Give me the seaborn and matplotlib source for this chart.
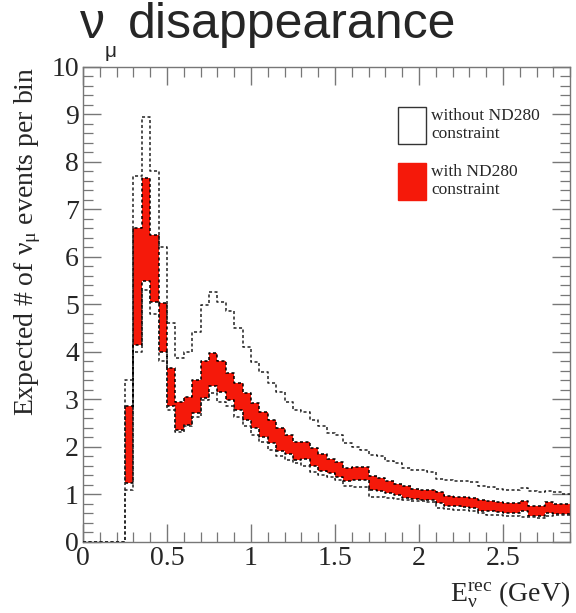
import matplotlib
matplotlib.use("Agg")
import matplotlib.pyplot as plt
from matplotlib.patches import Patch
import pandas as pd
import seaborn as sns

# bin low edges (GeV), 0.05 GeV binning
bin_lo = [0.00, 0.05, 0.10, 0.15, 0.20,
          0.25, 0.30, 0.35, 0.40, 0.45, 0.50, 0.55, 0.60, 0.65, 0.70,
          0.75, 0.80, 0.85, 0.90, 0.95, 1.00, 1.05, 1.10, 1.15, 1.20,
          1.25, 1.30, 1.35, 1.40, 1.45, 1.50, 1.55, 1.60, 1.65, 1.70,
          1.75, 1.80, 1.85, 1.90, 1.95, 2.00, 2.05, 2.10, 2.15, 2.20,
          2.25, 2.30, 2.35, 2.40, 2.45, 2.50, 2.55, 2.60, 2.65, 2.70,
          2.75, 2.80, 2.85]
last_edge = 2.95

# without ND280 constraint (dashed band)
without_lo = [0, 0, 0, 0, 0,
              1.10, 4.00, 5.30, 4.80, 3.80, 2.78, 2.32, 2.43, 2.63, 2.99,
              3.13, 2.95, 2.85, 2.63, 2.43, 2.25, 2.11, 1.94, 1.80, 1.72,
              1.66, 1.60, 1.48, 1.40, 1.37, 1.30, 1.18, 1.16, 1.15, 0.95,
              0.94, 0.92, 0.90, 0.88, 0.87, 0.86, 0.85, 0.72, 0.70, 0.68,
              0.67, 0.65, 0.60, 0.57, 0.56, 0.55, 0.55, 0.53, 0.52, 0.51,
              0.55, 0.56, 0.56]
without_hi = [0, 0, 0, 0, 0,
              3.40, 7.70, 8.95, 7.80, 6.20, 4.60, 3.87, 4.00, 4.42, 4.99,
              5.25, 5.05, 4.85, 4.50, 4.11, 3.79, 3.58, 3.35, 3.16, 2.95,
              2.78, 2.74, 2.57, 2.43, 2.29, 2.25, 2.08, 2.00, 1.94, 1.82,
              1.80, 1.70, 1.66, 1.55, 1.52, 1.52, 1.48, 1.32, 1.30, 1.28,
              1.28, 1.26, 1.18, 1.16, 1.12, 1.10, 1.10, 1.14, 1.08, 1.06,
              1.08, 1.04, 1.00]

# with ND280 constraint (red band), starts at 0.25 GeV
with_lo = [1.25, 4.15, 5.50, 5.05, 4.00, 2.85, 2.36, 2.46, 2.71, 3.03,
           3.28, 3.16, 2.99, 2.78, 2.57, 2.40, 2.21, 2.08, 1.92, 1.85,
           1.72, 1.75, 1.60, 1.50, 1.44, 1.36, 1.28, 1.30, 1.30, 1.10,
           1.08, 1.03, 0.98, 0.93, 0.90, 0.88, 0.88, 0.82, 0.76, 0.75,
           0.73, 0.71, 0.66, 0.64, 0.62, 0.60, 0.60, 0.64, 0.55, 0.55,
           0.60, 0.58, 0.58]
with_hi = [2.85, 6.60, 7.65, 6.45, 5.03, 3.66, 2.95, 3.05, 3.41, 3.80,
           3.97, 3.80, 3.55, 3.35, 3.13, 2.92, 2.74, 2.57, 2.39, 2.25,
           2.11, 2.11, 1.97, 1.85, 1.75, 1.68, 1.55, 1.58, 1.58, 1.38,
           1.34, 1.28, 1.22, 1.17, 1.12, 1.10, 1.10, 1.04, 0.97, 0.95,
           0.95, 0.93, 0.88, 0.86, 0.83, 0.82, 0.82, 0.87, 0.76, 0.76,
           0.84, 0.80, 0.79]

sns.set_style("ticks")
plt.rcParams["font.family"] = ["Liberation Serif", "DejaVu Serif"]
plt.rcParams["mathtext.fontset"] = "custom"
plt.rcParams["mathtext.rm"] = "Liberation Serif"
plt.rcParams["mathtext.it"] = "Liberation Serif:italic"

edges = bin_lo + [last_edge]
df = pd.DataFrame({
    "E": edges,
    "without_lo": without_lo + [without_lo[-1]],
    "without_hi": without_hi + [without_hi[-1]],
})
red_edges = bin_lo[5:] + [last_edge]
red_lo = with_lo + [with_lo[-1]]
red_hi = with_hi + [with_hi[-1]]

fig = plt.figure(figsize=(5.76, 6.13), dpi=100)
ax = fig.add_axes([0.144, 0.116, 0.846, 0.775])

dash = (0, (2.0, 1.6))
ax.fill_between(red_edges, red_lo, red_hi, step="post", facecolor="#f5190a",
                edgecolor="black", linestyle=dash, linewidth=1.1, zorder=2)
for col in ["without_lo", "without_hi"]:
    sns.lineplot(data=df, x="E", y=col, ax=ax, color="#222222", linewidth=1.1,
                 linestyle=dash, drawstyle="steps-post", estimator=None,
                 zorder=3)

ax.set_xlim(0, 2.9)
ax.set_ylim(0, 10)
ax.set_xticks([0, 0.5, 1, 1.5, 2, 2.5])
ax.set_xticklabels(["0", "0.5", "1", "1.5", "2", "2.5"])
ax.set_yticks(range(0, 11))
ax.set_xticks([i / 10 for i in range(0, 30)], minor=True)
ax.set_yticks([i / 5 for i in range(0, 51)], minor=True)
ax.tick_params(which="both", direction="in", top=True, right=True,
               color="#777777", labelsize=20, pad=3)
ax.tick_params(which="major", length=13, width=1.0)
ax.tick_params(which="minor", length=7, width=0.9)
for s in ax.spines.values():
    s.set_color("#777777")
    s.set_linewidth(1.0)

ax.set_xlabel(r"$\mathrm{E_{\nu}^{rec}}$ (GeV)", fontsize=20, loc="right",
              labelpad=6)
ax.set_ylabel(r"Expected # of $\mathrm{\nu_{\mu}}$ events per bin",
              fontsize=20, loc="top", labelpad=6)

handles = [Patch(facecolor="white", edgecolor="#333333", linewidth=1.0),
           Patch(facecolor="#f5190a", edgecolor="#f5190a", linewidth=1.0)]
ax.legend(handles, ["without ND280\nconstraint", "with ND280\nconstraint"],
          loc="upper left", bbox_to_anchor=(0.647, 0.915), frameon=False,
          fontsize=12.5, handlelength=1.6, handleheight=2.9,
          handletextpad=0.3, labelspacing=1.1, borderpad=0, borderaxespad=0)

sans = ["Liberation Sans", "DejaVu Sans"]
fig.text(80 / 576, 1 - 38 / 613, "ν", family=sans, fontsize=36, va="baseline")
fig.text(105 / 576, 1 - 57 / 613, "μ", family=sans, fontsize=15, va="baseline")
fig.text(128 / 576, 1 - 38 / 613, "disappearance", family=sans, fontsize=36,
         va="baseline")

fig.savefig("out.png", dpi=100)
